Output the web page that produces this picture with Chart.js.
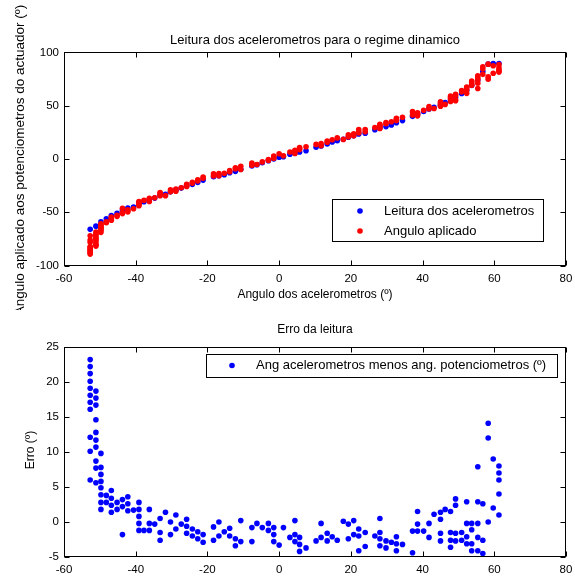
<!DOCTYPE html>
<html>
<head>
<meta charset="utf-8">
<script src="https://cdn.jsdelivr.net/npm/chart.js@4.4.0/dist/chart.umd.min.js"></script>
<style>
  body { margin: 0; background: #fff; width: 575px; height: 578px; overflow: hidden; position: relative; }
  canvas { position: absolute; left: 0; }
  #graficoTopo { top: 0; }
  #graficoErro { top: 310px; }
</style>
</head>
<body>
<canvas id="graficoTopo" width="575" height="310"></canvas>
<canvas id="graficoErro" width="575" height="268"></canvas>
<script>
// angulo dos acelerometros (eixo x) - uma coluna por posicao
const colunasX = [-52.7, -51.1, -49.7, -48.2, -46.8, -45.2, -43.7, -42.2, -40.6, -39.1, -37.7, -36.2,
  -34.7, -33.2, -31.7, -30.3, -28.8, -27.3, -25.8, -24.2, -22.7, -21.2, -18.3, -16.8, -15.3, -13.8,
  -12.2, -10.7, -7.6, -6.2, -4.7, -3.0, -1.5, 0.0, 1.2, 3.0, 4.4, 5.7, 7.5, 10.3, 11.7, 13.4, 14.8,
  16.2, 17.9, 19.3, 20.8, 22.2, 24.0, 26.7, 28.1, 29.8, 31.3, 32.7, 34.4, 37.2, 38.6, 40.3, 41.8,
  43.2, 45.0, 46.3, 47.8, 49.2, 50.9, 52.3, 53.7, 55.4, 56.8, 58.3, 59.7, 61.3];

// leitura dos acelerometros (azul)
const leituraAcel = [-66, -63, -59, -56, -53, -51, -48, -46, -45, -41, -40, -38,
  -36.7, -34, -33, -30.8, -29.2, -27.3, -25.4, -23.8, -21.9, -19.8, -16.6, -15.7, -14.8, -12.9,
  -11.6, -9.7, -6.6, -5.4, -3.5, -1.6, 0, 1.6, 2.2, 4.4, 5.4, 6.6, 7.8, 11.0, 12.2, 14.1, 16.0,
  17.2, 18.5, 20.4, 21.9, 23.5, 24.1, 27.5, 29.2, 30.4, 32.0, 34.0, 36.0, 40.0, 42.0, 44.5, 47.0,
  48.5, 51.0, 53.0, 55.5, 58.0, 61.5, 64.5, 69.0, 74.0, 82.0, 89.0, 89.5, 89.5];

// x de cada amostra (angulo aplicado e erro)
const amostrasX = [
  -52.7, -52.7, -52.7, -52.7, -52.7, -52.7, -52.7, -52.7, -52.7, -52.7, -52.7,
  -51.1, -51.1, -51.1, -51.1, -51.1, -51.1, -51.1, -51.1, -51.1, -51.1,
  -49.7, -49.7, -49.7, -49.7, -49.7, -49.7, -49.7, -49.7,
  -48.2, -48.2, -46.8, -46.8, -46.8, -46.8, -45.2, -45.2,
  -43.7, -43.7, -43.7, -42.2, -42.2, -42.2, -40.6,
  -39.1, -39.1, -39.1, -39.1, -39.1, -37.7, -36.2, -36.2, -36.2, -34.7,
  -33.2, -33.2, -33.2, -31.7, -30.3, -30.3, -28.8, -28.8, -27.3,
  -25.8, -25.8, -25.8, -24.2, -24.2, -22.7, -22.7, -21.2, -21.2,
  -18.3, -18.3, -16.8, -16.8, -15.3, -13.8, -13.8, -12.2, -12.2, -10.7, -10.7,
  -7.6, -7.6, -6.2, -4.7, -3.0, -3.0, -1.5, -1.5, -1.5, 0.0, 1.2, 3.0,
  4.4, 4.4, 4.4, 5.7, 5.7, 5.7, 7.5, 10.3, 11.7, 11.7, 13.4, 13.4, 14.8, 16.2, 17.9,
  19.3, 19.3, 20.8, 20.8, 22.2, 22.2, 22.2, 24.0, 24.0, 26.7,
  28.1, 28.1, 28.1, 28.1, 29.8, 29.8, 31.3, 32.7, 32.7, 32.7, 34.4,
  37.2, 37.2, 38.6, 38.6, 38.6, 40.3, 41.8, 41.8, 43.2,
  45.0, 45.0, 45.0, 45.0, 46.3, 47.8, 47.8, 47.8, 47.8,
  49.2, 49.2, 49.2, 49.2, 50.9, 50.9, 52.3, 52.3, 52.3, 52.3,
  53.7, 53.7, 53.7, 53.7, 55.4, 55.4, 55.4, 55.4, 55.4,
  56.8, 56.8, 56.8, 58.3, 58.3, 58.3, 59.7, 59.7,
  61.3, 61.3, 61.3, 61.3, 61.3];

// angulo aplicado aos potenciometros (vermelho)
const anguloAplicado = [
  -89.2, -88.2, -87.2, -86.1, -85.1, -84.1, -83.1, -82.1, -78.1, -76.1, -72.0,
  -81.7, -80.7, -79.7, -77.6, -75.8, -74.7, -73.7, -71.7, -70.7, -68.6,
  -68.8, -66.8, -65.8, -64.8, -63.9, -62.9, -61.8, -60.8,
  -59.8, -58.8, -57.5, -56.4, -55.4, -54.4, -53.8, -52.8,
  -51.2, -50.2, -46.2, -49.6, -48.6, -47.6, -46.7,
  -43.8, -42.8, -41.8, -40.8, -39.8, -38.8, -39.8, -37.8, -36.8, -36.4,
  -34.5, -32.5, -31.4, -34.4, -30.8, -29.0, -30.2, -28.2, -27.0,
  -25.8, -24.8, -23.8, -22.8, -21.8, -20.5, -19.5, -18.0, -16.9,
  -15.9, -14.0, -15.7, -13.7, -13.4, -12.0, -10.9, -9.2, -8.2, -9.9, -6.9,
  -5.8, -3.8, -5.2, -2.7, -1.4, -0.4, 0.8, 1.8, 2.8, 4.9, 3.0, 6.6,
  5.2, 7.2, 8.2, 8.8, 9.8, 10.8, 11.5, 13.7, 12.4, 14.4, 15.7, 16.8, 18.1, 19.8, 18.4,
  20.7, 22.8, 21.7, 23.7, 24.5, 25.5, 27.6, 25.6, 27.6, 29.5,
  28.7, 30.7, 31.6, 32.6, 33.1, 34.1, 34.9, 36.1, 37.1, 38.1, 39.2,
  41.3, 44.4, 40.5, 42.3, 43.3, 45.8, 47.2, 49.2, 47.4,
  49.6, 50.6, 52.6, 53.7, 51.2, 54.0, 57.0, 58.1, 59.1,
  54.7, 55.6, 59.6, 60.7, 63.0, 64.1, 61.6, 64.7, 66.6, 67.6,
  69.2, 70.1, 72.1, 73.1, 66.1, 71.1, 74.2, 76.2, 78.1,
  79.4, 84.6, 86.5, 74.9, 77.0, 89.0, 80.5, 87.5,
  81.5, 82.5, 83.5, 85.5, 88.5];

// erro: acelerometros menos potenciometros
const erroLeitura = [
  23.2, 22.2, 21.2, 20.1, 19.1, 18.1, 17.1, 16.1, 12.1, 10.1, 6.0,
  18.7, 17.7, 16.7, 14.6, 12.8, 11.7, 10.7, 8.7, 7.7, 5.6,
  9.8, 7.8, 6.8, 5.8, 4.9, 3.9, 2.8, 1.8,
  3.8, 2.8, 4.5, 3.4, 2.4, 1.4, 2.8, 1.8,
  3.2, 2.2, -1.8, 3.6, 2.6, 1.6, 1.7,
  2.8, 1.8, 0.8, -0.2, -1.2, -1.2, 1.8, -0.2, -1.2, -0.3,
  0.5, -1.5, -2.6, 1.4, 0.0, -1.8, 1.0, -1.0, -0.3,
  0.4, -0.6, -1.6, -1.0, -2.0, -1.4, -2.4, -1.8, -2.9,
  -0.7, -2.6, 0.0, -2.0, -1.4, -0.9, -2.0, -2.4, -3.4, 0.2, -2.8,
  -0.8, -2.8, -0.2, -0.8, -0.2, -1.2, -0.8, -1.8, -2.8, -3.3, -0.8, -2.2,
  0.2, -1.8, -2.8, -2.2, -3.2, -4.2, -3.7, -2.7, -0.2, -2.2, -1.6, -2.7, -2.1, -2.6, 0.1,
  -0.3, -2.4, 0.2, -1.8, -1.0, -2.0, -4.1, -1.5, -3.5, -2.0,
  0.5, -1.5, -2.4, -3.4, -2.7, -3.7, -2.9, -2.1, -3.1, -4.1, -3.2,
  -1.3, -4.4, 1.5, -0.3, -1.3, -1.3, -0.2, -2.2, 1.1,
  1.4, 0.4, -1.6, -2.7, 1.8, 1.5, -1.5, -2.6, -3.6,
  3.3, 2.4, -1.6, -2.7, -1.5, -2.6, 2.9, -0.2, -2.1, -3.1,
  -0.2, -1.1, -3.1, -4.1, 7.9, 2.9, -0.2, -2.2, -4.1,
  2.6, -2.6, -4.5, 14.1, 12.0, 0.0, 9.0, 2.0,
  8.0, 7.0, 6.0, 4.0, 1.0];

const ticksX = [-60, -40, -20, 0, 20, 40, 60, 80];
const ticksTopo = [-100, -50, 0, 50, 100];
const ticksErro = [-5, 0, 5, 10, 15, 20, 25];

const AZUL = '#0000ff';
const VERMELHO = '#ff0000';
const FONTE = 'Arial, "Liberation Sans", sans-serif';
const RAIO = 2.8;

const juntar = (xs, ys) => xs.map((x, i) => ({ x: x, y: ys[i] }));

// caixa, marcas para dentro, titulos e legenda (estilo matlab)
const molduraPlugin = {
  id: 'moldura',
  afterDraw(chart, args, opts) {
    const ctx = chart.ctx;
    const a = chart.chartArea;
    const sx = chart.scales.x;
    const sy = chart.scales.y;
    ctx.save();
    ctx.strokeStyle = '#000';
    ctx.lineWidth = 1;
    const l = Math.round(a.left) + 0.5, r = Math.round(a.right) - 0.5;
    const t = Math.round(a.top) + 0.5, b = Math.round(a.bottom) - 0.5;
    ctx.strokeRect(l, t, r - l, b - t);
    ctx.beginPath();
    sx.ticks.forEach((tk) => {
      const px = Math.round(sx.getPixelForValue(tk.value)) + 0.5;
      ctx.moveTo(px, t); ctx.lineTo(px, t + 5);
      ctx.moveTo(px, b); ctx.lineTo(px, b - 5);
    });
    sy.ticks.forEach((tk) => {
      const py = Math.round(sy.getPixelForValue(tk.value)) + 0.5;
      ctx.moveTo(l, py); ctx.lineTo(l + 5, py);
      ctx.moveTo(r, py); ctx.lineTo(r - 5, py);
    });
    ctx.stroke();

    ctx.fillStyle = '#000';
    ctx.textBaseline = 'middle';
    ctx.textAlign = 'center';
    opts.textos.forEach((tx) => {
      ctx.save();
      ctx.font = tx.tamanho + 'px ' + FONTE;
      ctx.translate(tx.x, tx.y);
      if (tx.rodar) ctx.rotate(-Math.PI / 2);
      ctx.fillText(tx.texto, 0, 0);
      ctx.restore();
    });

    const lg = opts.legenda;
    ctx.fillStyle = '#fff';
    ctx.fillRect(lg.x, lg.y, lg.w, lg.h);
    ctx.strokeStyle = '#000';
    ctx.strokeRect(lg.x + 0.5, lg.y + 0.5, lg.w, lg.h);
    ctx.textAlign = 'left';
    ctx.font = lg.tamanho + 'px ' + FONTE;
    lg.itens.forEach((it, i) => {
      const yy = lg.y + lg.primeira + i * lg.passo;
      ctx.fillStyle = it.cor;
      ctx.beginPath();
      ctx.arc(lg.x + lg.marca, yy, RAIO, 0, Math.PI * 2);
      ctx.fill();
      ctx.fillStyle = '#000';
      ctx.fillText(it.texto, lg.x + lg.texto, yy);
    });
    ctx.restore();
  }
};

const eixoX = (altura) => ({
  type: 'linear', min: -60, max: 80,
  afterBuildTicks: (s) => { s.ticks = ticksX.map((v) => ({ value: v })); },
  afterFit: (s) => { s.height = altura; s.paddingLeft = 0; s.paddingRight = 0; },
  grid: { display: false, drawTicks: false },
  border: { display: false },
  ticks: { color: '#000', padding: 6, font: { family: FONTE, size: 11.5 }, maxRotation: 0 }
});

const eixoY = (min, max, lista) => ({
  type: 'linear', min: min, max: max,
  afterBuildTicks: (s) => { s.ticks = lista.map((v) => ({ value: v })); },
  afterFit: (s) => { s.width = 64; s.paddingTop = 0; s.paddingBottom = 0; },
  grid: { display: false, drawTicks: false },
  border: { display: false },
  ticks: { color: '#000', padding: 5, font: { family: FONTE, size: 11.5 } }
});

const basePontos = { showLine: false, pointRadius: RAIO, pointHoverRadius: RAIO, pointBorderWidth: 0 };

new Chart(document.getElementById('graficoTopo'), {
  type: 'scatter',
  data: {
    datasets: [
      Object.assign({ label: 'Leitura dos acelerometros', data: juntar(colunasX, leituraAcel),
        backgroundColor: AZUL, borderColor: AZUL, order: 1 }, basePontos),
      Object.assign({ label: 'Angulo aplicado', data: juntar(amostrasX, anguloAplicado),
        backgroundColor: VERMELHO, borderColor: VERMELHO, order: 0 }, basePontos)
    ]
  },
  options: {
    responsive: false,
    animation: false,
    events: [],
    layout: { padding: { top: 52.4, right: 9, left: 0, bottom: 0 } },
    scales: { x: eixoX(44.4), y: eixoY(-100, 100, ticksTopo) },
    plugins: {
      legend: { display: false },
      tooltip: { enabled: false },
      moldura: {
        textos: [
          { texto: 'Leitura dos acelerometros para o regime dinamico', x: 315, y: 40, tamanho: 13 },
          { texto: 'Angulo dos acelerometros (º)', x: 315, y: 295, tamanho: 12 },
          { texto: 'Angulo aplicado aos potenciometros do actuador (º)', x: 20, y: 160, tamanho: 13.5, rodar: true }
        ],
        legenda: {
          x: 332, y: 199, w: 211, h: 42, tamanho: 13, marca: 28, texto: 52, primeira: 12, passo: 20,
          itens: [
            { texto: 'Leitura dos acelerometros', cor: AZUL },
            { texto: 'Angulo aplicado', cor: VERMELHO }
          ]
        }
      }
    }
  },
  plugins: [molduraPlugin]
});

new Chart(document.getElementById('graficoErro'), {
  type: 'scatter',
  data: {
    datasets: [
      Object.assign({ label: 'Ang acelerometros menos ang. potenciometros (º)', data: juntar(amostrasX, erroLeitura),
        backgroundColor: AZUL, borderColor: AZUL }, basePontos)
    ]
  },
  options: {
    responsive: false,
    animation: false,
    events: [],
    layout: { padding: { top: 37, right: 9, left: 0, bottom: 0 } },
    scales: { x: eixoX(21), y: eixoY(-5, 25, ticksErro) },
    plugins: {
      legend: { display: false },
      tooltip: { enabled: false },
      moldura: {
        textos: [
          { texto: 'Erro da leitura', x: 315, y: 20, tamanho: 12 },
          { texto: 'Erro (º)', x: 31, y: 140, tamanho: 12, rodar: true }
        ],
        legenda: {
          x: 206, y: 44, w: 351, h: 23, tamanho: 13, marca: 26, texto: 50, primeira: 11.5, passo: 0,
          itens: [
            { texto: 'Ang acelerometros menos ang. potenciometros (º)', cor: AZUL }
          ]
        }
      }
    }
  },
  plugins: [molduraPlugin]
});
</script>
</body>
</html>
